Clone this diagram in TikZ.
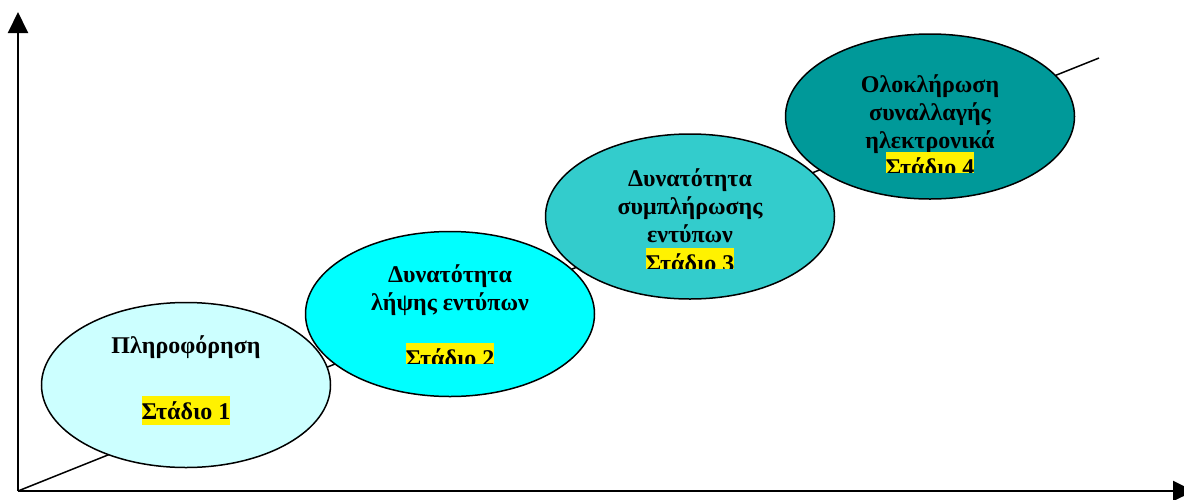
\documentclass[tikz,border=0pt]{standalone}
\usepackage{fontspec}
\setmainfont{Liberation Serif}
\usetikzlibrary{calc,shapes.geometric,arrows.meta}
\definecolor{stageA}{HTML}{CCFFFF}
\definecolor{stageB}{HTML}{00FFFF}
\definecolor{stageC}{HTML}{33CCCC}
\definecolor{stageD}{HTML}{009999}
\tikzset{
  stage/.style={ellipse, draw=black, line width=1.5pt, minimum width=289pt,
        minimum height=165pt, inner sep=0pt},
  stage text/.style={anchor=base, align=center, inner sep=0pt,
        font=\bfseries\fontsize{24}{28}\selectfont},
  stage tag/.style={anchor=base, fill=yellow, inner sep=0pt, text height=23pt,
        text depth=6pt, font=\bfseries\fontsize{24}{28}\selectfont},
  axis/.style={line width=2pt, -{Triangle[width=20pt,length=21pt]}},
}
% offset #4 is to the baseline of the last line of the text
\def\Stage#1#2#3#4#5{%
  \node[stage, fill=#3] (#1) at (#2) {};
  \node[stage text] (#1text) at ($(#1.center)+(0,#4)$) {#5};
}
\def\StageTag#1#2#3{%
  \node[stage tag] (#1tag) at ($(#1.center)+(0,#2)$) {Στάδιο #3};
}
% the last line of stages 2-4 is cut off at the bottom
\def\CutTag#1#2#3{%
  \coordinate (#1cut) at ($(#1.center)+(0,#2-3)$);
  \begin{scope}
    \clip (0,0) rectangle ($(#1cut)+(1184,0)$);
    \StageTag{#1}{#2}{#3}
  \end{scope}
}

\begin{document}
\begin{tikzpicture}[x=1pt,y=-1pt]
\useasboundingbox (0,0) rectangle (1184,499);
\coordinate (origin) at (18,491);
\coordinate (top) at (18,12);
\coordinate (right) at (1194,491);
\coordinate (far) at (1099,58);
\draw[line width=1.5pt] (origin) -- (far);
\Stage{info}{186,385}{stageA}{-32}{Πληροφόρηση}
\StageTag{info}{34}{1}
\Stage{forms}{450,314}{stageB}{-4}{Δυνατότητα\\λήψης εντύπων}
\CutTag{forms}{52}{2}
\Stage{fill}{690,216.5}{stageC}{25.5}{Δυνατότητα\\συμπλήρωσης\\εντύπων}
\CutTag{fill}{54.5}{3}
\Stage{deal}{930,116.5}{stageD}{31.5}{Ολοκλήρωση\\συναλλαγής\\ηλεκτρονικά}
\CutTag{deal}{58.5}{4}
\draw[axis] (origin) -- (top);
\draw[axis] (origin) -- (right);
\end{tikzpicture}
\end{document}
